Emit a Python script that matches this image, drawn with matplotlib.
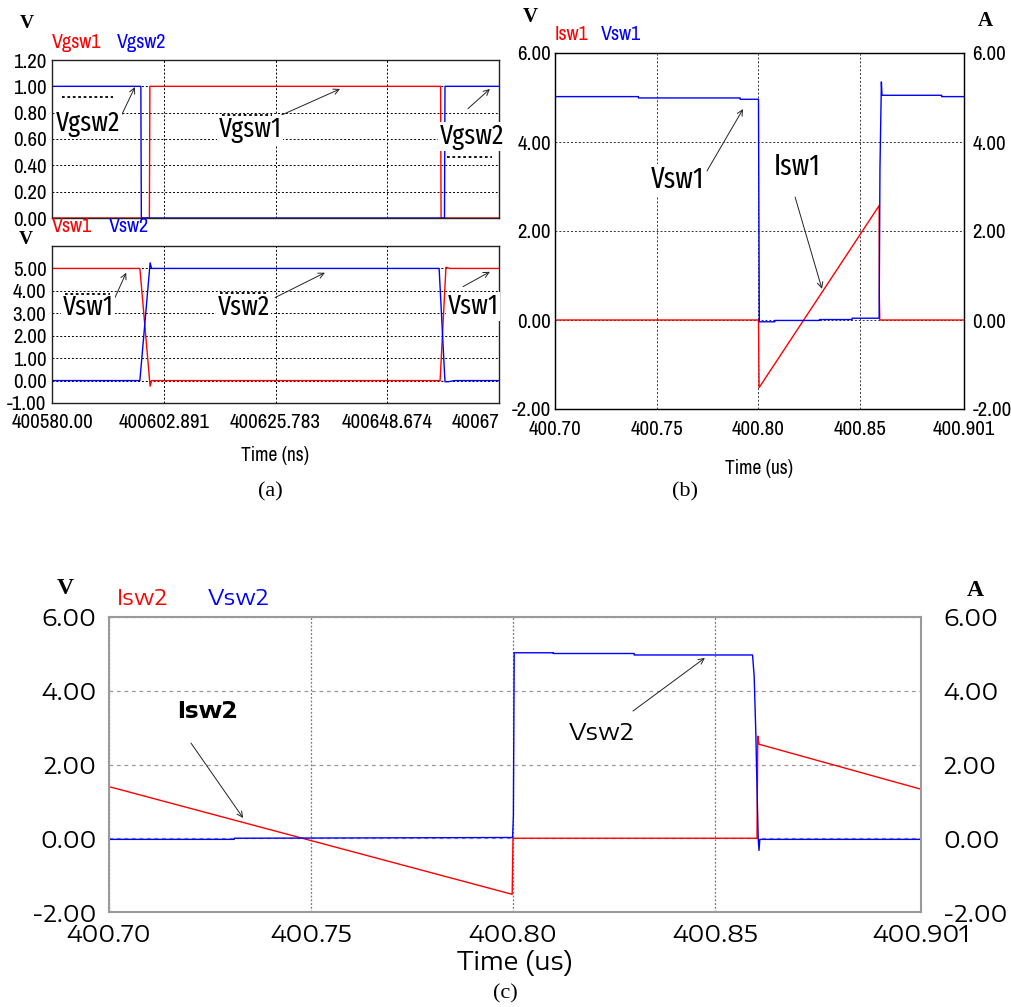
import matplotlib
matplotlib.use("Agg")
import matplotlib.pyplot as plt
from matplotlib import font_manager

W, H = 1011, 1007

_names = {f.name for f in font_manager.fontManager.ttflist}


def pick(*cands):
    for c in cands:
        if c in _names:
            return c
    return "DejaVu Sans"


# narrow sans for (a)/(b), very condensed for callouts, wide sans for (c)
NARROW = pick("Liberation Sans Narrow", "Arial Narrow", "Archivo Narrow", "Roboto Condensed",
              "PT Sans Narrow")
CALLOUT = pick("Fira Sans Extra Condensed", "Barlow Condensed", "Archivo Narrow")
WIDE = pick("Encode Sans Expanded", "Encode Sans Semi Expanded", "DejaVu Sans")
SERIF = pick("Liberation Serif", "Tinos", "DejaVu Serif")

RED = "#ff0000"
BLUE = "#0000ff"

# ---------------- (a) gate / switch voltages, time in ns
ns_ticks = [400580.0, 400602.891, 400625.783, 400648.674, 400671.566]
ns_labels = ["400580.00", "400602.891", "400625.783", "400648.674", "40067"]

vgsw1_t = [400580.0, 400599.95, 400600.05, 400659.6, 400659.7, 400671.566]
vgsw1_v = [0.0, 0.0, 1.0, 1.0, 0.0, 0.0]
vgsw2_t = [400580.0, 400598.2, 400598.3, 400660.4, 400660.5, 400671.566]
vgsw2_v = [1.0, 1.0, 0.0, 0.0, 1.0, 1.0]

vsw1_t = [400580.0, 400598.0, 400600.1, 400600.4, 400659.5, 400660.7, 400661.5, 400671.566]
vsw1_v = [5.0, 5.0, -0.25, 0.0, 0.0, 5.05, 5.0, 5.0]
vsw2_t = [400580.0, 400598.0, 400600.1, 400600.4, 400659.3, 400660.5, 400661.2, 400662.5, 400671.566]
vsw2_v = [0.0, 0.0, 5.25, 5.0, 5.0, -0.05, -0.05, 0.0, 0.0]

# ---------------- (b) switch 1, time in us
us_ticks = [400.70, 400.75, 400.80, 400.85, 400.901]
us_labels = ["400.70", "400.75", "400.80", "400.85", "400.901"]
va_ticks = [-2, 0, 2, 4, 6]
va_labels = ["-2.00", "0.00", "2.00", "4.00", "6.00"]

vsw1b_t = [400.700, 400.741, 400.741, 400.791, 400.791, 400.8000, 400.8004, 400.808, 400.808,
           400.830, 400.830, 400.846, 400.846, 400.8593, 400.8597, 400.8604, 400.8607, 400.890,
           400.890, 400.901]
vsw1b_v = [5.02, 5.02, 4.99, 4.99, 4.96, 4.96, -0.04, -0.04, -0.01, -0.01, 0.01, 0.01, 0.04,
           0.04, 3.4, 5.35, 5.05, 5.05, 5.02, 5.02]
isw1_t = [400.700, 400.8000, 400.8003, 400.8593, 400.8594, 400.8596, 400.901]
isw1_v = [0.0, 0.0, -1.52, 2.57, 0.5, 0.0, 0.0]

# ---------------- (c) switch 2, time in us
isw2_t = [400.700, 400.7998, 400.8000, 400.8604, 400.8606, 400.8609, 400.901]
isw2_v = [1.40, -1.52, 0.0, 0.0, 2.77, 2.55, 1.33]
vsw2c_t = [400.700, 400.731, 400.731, 400.7999, 400.8001, 400.8003, 400.810, 400.810, 400.830,
           400.830, 400.8593, 400.8597, 400.8601, 400.8604, 400.8607, 400.8609, 400.8611, 400.901]
vsw2c_v = [-0.03, -0.03, 0.0, 0.02, 0.6, 5.03, 5.03, 5.01, 5.01, 4.97, 4.97, 4.4, 2.9, 1.4,
           0.0, -0.33, -0.03, -0.03]

fig = plt.figure(figsize=(W / 100, H / 100), dpi=100)


def px_axes(x0, y0, x1, y1):
    return fig.add_axes([x0 / W, 1 - y1 / H, (x1 - x0) / W, (y1 - y0) / H])


def ftext(x, y, s, **kw):
    fig.text(x / W, 1 - y / H, s, ha="center", va="center", **kw)


def label(ax, txt, xy, xytext, line=None, fs=20, family=CALLOUT, weight="normal"):
    # callout text with thin arrow; optional dotted dash next to it
    ax.annotate("", xy=xy, xytext=xytext,
                arrowprops=dict(arrowstyle="->", color="#222222", lw=0.7, shrinkA=0, shrinkB=0))
    ax.text(txt[1], txt[2], txt[0], ha="center", va="center", fontsize=fs, family=family,
            weight=weight, bbox=dict(fc="white", ec="none", pad=1), zorder=5)
    if line is not None:
        ax.plot(line[0], line[1], ls=(0, (1.5, 1.5)), color="black", lw=1.3, zorder=6)


def set_family(ax, family):
    for lab in ax.get_xticklabels() + ax.get_yticklabels():
        lab.set_family(family)


def style_narrow(ax):
    for s in ax.spines.values():
        s.set_color("#222222")
        s.set_linewidth(1.0)
    ax.tick_params(length=0, labelsize=15)
    set_family(ax, NARROW)
    ax.grid(True, color="black", ls=(0, (2, 2)), lw=0.7)
    ax.set_axisbelow(True)


# ---------------- (a) top
ax1 = px_axes(52, 60, 499, 218)
ax1.plot(vgsw1_t, vgsw1_v, color=RED, lw=1.0)
ax1.plot(vgsw2_t, vgsw2_v, color=BLUE, lw=1.0)
ax1.set_xlim(ns_ticks[0], ns_ticks[-1])
ax1.set_ylim(0, 1.2)
ax1.set_xticks(ns_ticks[1:-1])
ax1.set_xticklabels([])
ax1.set_yticks([0, 0.2, 0.4, 0.6, 0.8, 1.0, 1.2])
ax1.set_yticklabels(["0.00", "0.20", "0.40", "0.60", "0.80", "1.00", "1.20"])
ax1.tick_params(axis="y", pad=4)
style_narrow(ax1)
label(ax1, ("Vgsw2", 400587.4, 0.72), (400597.0, 0.995), (400594.1, 0.77),
      line=([400582.0, 400592.5], [0.92, 0.92]))
label(ax1, ("Vgsw1", 400620.6, 0.67), (400639.0, 0.98), (400625.7, 0.76),
      line=([400614.8, 400625.1], [0.78, 0.78]))
label(ax1, ("Vgsw2", 400666.0, 0.62), (400669.7, 0.98), (400665.2, 0.83),
      line=([400660.9, 400670.1], [0.46, 0.46]))

# ---------------- (a) bottom
ax2 = px_axes(52, 246, 499, 403)
ax2.plot(vsw1_t, vsw1_v, color=RED, lw=1.0)
ax2.plot(vsw2_t, vsw2_v, color=BLUE, lw=1.0)
ax2.set_xlim(ns_ticks[0], ns_ticks[-1])
ax2.set_ylim(-1, 6)
ax2.set_xticks(ns_ticks)
ax2.set_xticklabels(ns_labels)
ax2.get_xticklabels()[-1].set_ha("right")
ax2.set_yticks([-1, 0, 1, 2, 3, 4, 5])
ax2.set_yticklabels(["-1.00", "0.00", "1.00", "2.00", "3.00", "4.00", "5.00"])
ax2.tick_params(axis="y", pad=4)
ax2.tick_params(axis="x", pad=7)
style_narrow(ax2)
ax2.set_xlabel("Time (ns)", family=NARROW, fontsize=14, labelpad=10)
label(ax2, ("Vsw1", 400587.4, 3.26), (400595.2, 4.81), (400592.9, 3.70),
      line=([400582.7, 400591.9], [3.88, 3.88]))
label(ax2, ("Vsw2", 400619.3, 3.26), (400635.9, 4.81), (400625.7, 3.70),
      line=([400614.4, 400624.2], [3.92, 3.92]))
label(ax2, ("Vsw1", 400666.3, 3.30), (400669.7, 4.85), (400664.2, 4.19))

ftext(27, 23, "V", family=SERIF, weight="bold", fontsize=14)
ftext(77, 42, "Vgsw1", family=NARROW, fontsize=14.5, color=RED)
ftext(142, 42, "Vgsw2", family=NARROW, fontsize=14.5, color=BLUE)
ftext(26, 240, "V", family=SERIF, weight="bold", fontsize=14)
ftext(72, 227, "Vsw1", family=NARROW, fontsize=14.5, color=RED)
ftext(129, 227, "Vsw2", family=NARROW, fontsize=14.5, color=BLUE)
ftext(270, 492, "(a)", family=SERIF, fontsize=16)

# ---------------- (b)
ax3 = px_axes(555, 53, 964, 409)
ax3.plot(isw1_t, isw1_v, color=RED, lw=1.0)
ax3.plot(vsw1b_t, vsw1b_v, color=BLUE, lw=1.0)
ax3.set_xlim(us_ticks[0], us_ticks[-1])
ax3.set_ylim(-2, 6)
ax3.set_xticks(us_ticks)
ax3.set_xticklabels(us_labels)
ax3.set_yticks(va_ticks)
ax3.set_yticklabels(va_labels)
ax3.tick_params(axis="y", pad=3)
ax3.tick_params(axis="x", pad=8)
style_narrow(ax3)
ax3.grid(True, color="#333333", ls=(0, (2, 2)), lw=0.7)
ax3r = ax3.twinx()
ax3r.set_ylim(-2, 6)
ax3r.set_yticks(va_ticks)
ax3r.set_yticklabels(va_labels)
ax3r.tick_params(length=0, labelsize=15, pad=6)
set_family(ax3r, NARROW)
ax3.set_xlabel("Time (us)", family=NARROW, fontsize=14, labelpad=14)
label(ax3, ("Vsw1", 400.760, 3.15), (400.7924, 4.74), (400.7747, 3.35), fs=21)
label(ax3, ("Isw1", 400.8189, 3.44), (400.8312, 0.70), (400.818, 2.76), fs=21)
ftext(530, 17, "V", family=SERIF, weight="bold", fontsize=15)
ftext(985, 21, "A", family=SERIF, weight="bold", fontsize=15)
ftext(571, 34, "Isw1", family=NARROW, fontsize=14.5, color=RED)
ftext(621, 34, "Vsw1", family=NARROW, fontsize=14.5, color=BLUE)
ftext(685, 492, "(b)", family=SERIF, fontsize=16)

# ---------------- (c)
ax4 = px_axes(109, 617, 921, 912)
ax4.plot(isw2_t, isw2_v, color=RED, lw=1.0)
ax4.plot(vsw2c_t, vsw2c_v, color=BLUE, lw=1.0)
ax4.set_xlim(us_ticks[0], us_ticks[-1])
ax4.set_ylim(-2, 6)
ax4.set_xticks(us_ticks)
ax4.set_xticklabels(us_labels)
ax4.set_yticks(va_ticks)
ax4.set_yticklabels(va_labels)
for s in ax4.spines.values():
    s.set_color("#9a9a9a")
    s.set_linewidth(1.5)
ax4.tick_params(length=0, labelsize=17)
ax4.tick_params(axis="y", pad=9)
ax4.tick_params(axis="x", pad=8)
set_family(ax4, WIDE)
ax4.yaxis.grid(True, color="#9a9a9a", ls=(0, (3, 3)), lw=0.9)
ax4.xaxis.grid(True, color="#777777", ls=(0, (1.5, 1.5)), lw=0.9)
ax4.set_axisbelow(True)
ax4r = ax4.twinx()
ax4r.set_ylim(-2, 6)
ax4r.set_yticks(va_ticks)
ax4r.set_yticklabels(va_labels)
ax4r.tick_params(length=0, labelsize=17, pad=16)
set_family(ax4r, WIDE)
for s in ax4r.spines.values():
    s.set_visible(False)
ax4.set_xlabel("Time (us)", family=WIDE, fontsize=18, labelpad=2)
label(ax4, ("Isw2", 400.7243, 3.45), (400.7332, 0.55), (400.7203, 2.58), fs=17,
      family=WIDE, weight="bold")
label(ax4, ("Vsw2", 400.8218, 2.85), (400.8475, 4.89), (400.8297, 3.45), fs=17, family=WIDE)
ftext(65, 589, "V", family=SERIF, weight="bold", fontsize=17)
ftext(975, 590, "A", family=SERIF, weight="bold", fontsize=17)
ftext(142, 599, "Isw2", family=WIDE, fontsize=16, color=RED)
ftext(239, 599, "Vsw2", family=WIDE, fontsize=16, color=BLUE)
ftext(505, 994, "(c)", family=SERIF, fontsize=16)

fig.savefig("out.png", dpi=100)
